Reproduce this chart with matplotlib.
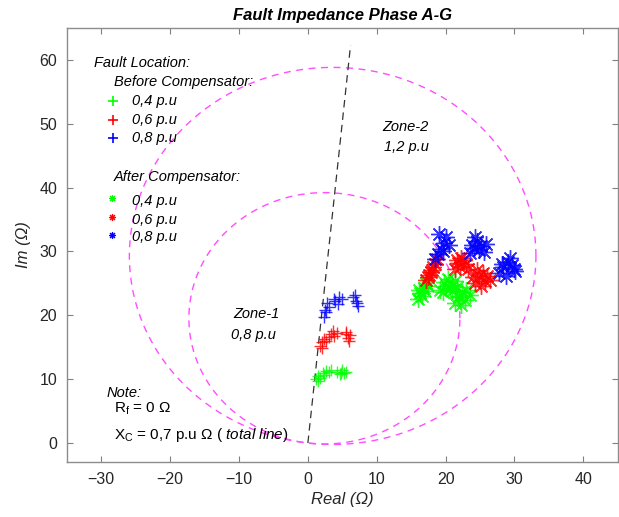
import numpy as np
import matplotlib
matplotlib.use("Agg")
import matplotlib.pyplot as plt

plt.rcParams['font.family'] = ['Liberation Sans', 'DejaVu Sans']
plt.rcParams['mathtext.fontset'] = 'custom'
plt.rcParams['mathtext.rm'] = 'Liberation Sans'
plt.rcParams['mathtext.it'] = 'Liberation Sans:italic'

# ---- data ----
xticks = [-30, -20, -10, 0, 10, 20, 30, 40]
yticks = [0, 10, 20, 30, 40, 50, 60]

line_mag = 49.2        # total line impedance (ohm)
line_angle = 83.0      # degrees
zone_factors = [0.8, 1.2]
line_end = [6.2, 62.3]

green_before_x = [1.2, 1.5, 1.8, 2.2, 2.6, 3.0, 2.4, 4.2, 4.6, 5.0, 5.3, 4.8, 5.6, 1.4, 3.3]
green_before_y = [10.0, 10.5, 10.2, 11.0, 11.3, 11.1, 10.7, 11.2, 10.8, 11.4, 10.9, 11.0, 11.2, 9.7, 11.4]
red_before_x = [1.8, 2.0, 2.3, 2.1, 3.0, 3.4, 3.8, 4.2, 5.5, 5.8, 6.1, 5.9, 5.6, 2.6, 3.6]
red_before_y = [15.2, 15.8, 16.3, 14.9, 16.6, 17.1, 16.8, 17.2, 17.0, 16.5, 16.9, 15.9, 17.4, 16.0, 17.5]
blue_before_x = [2.4, 2.7, 3.0, 2.8, 4.0, 4.5, 4.9, 4.4, 6.6, 7.0, 7.3, 6.9, 7.1, 2.5, 3.8]
blue_before_y = [19.8, 20.5, 21.3, 21.9, 22.3, 22.9, 22.5, 21.8, 22.8, 22.2, 21.5, 23.2, 21.9, 20.9, 22.6]

green_after_x = [16.0, 16.3, 16.8, 17.1, 17.4, 16.5, 16.1, 17.0,
                 19.2, 19.8, 20.3, 20.9, 21.3, 19.6, 20.6, 20.0, 21.0,
                 21.4, 21.9, 22.4, 23.0, 23.5, 22.2, 21.7, 22.8, 22.0]
green_after_y = [22.6, 23.5, 24.3, 25.0, 24.6, 23.0, 24.0, 23.8,
                 24.0, 25.2, 25.7, 24.8, 25.3, 23.6, 24.2, 24.6, 23.8,
                 22.0, 23.0, 23.6, 24.0, 23.2, 21.6, 24.4, 22.4, 22.9]
red_after_x = [17.2, 17.6, 18.0, 18.4, 18.7, 17.9, 17.5, 18.2,
               21.3, 21.8, 22.3, 22.9, 23.3, 22.1, 21.6, 22.7,
               24.2, 24.8, 25.4, 26.0, 26.5, 25.1, 24.6, 25.7, 24.0]
red_after_y = [25.5, 26.3, 27.1, 28.0, 28.8, 26.8, 26.0, 27.6,
               27.3, 28.2, 28.9, 28.0, 27.2, 27.6, 28.6, 28.6,
               25.0, 26.1, 26.7, 26.2, 25.5, 24.6, 27.1, 25.3, 26.0]
blue_after_x = [18.4, 18.9, 19.3, 19.7, 20.1, 20.5, 19.1, 19.6,
                23.6, 24.1, 24.6, 25.1, 25.6, 24.3, 25.8, 24.9, 23.9,
                27.8, 28.4, 29.0, 29.6, 30.1, 28.8, 29.4, 28.2, 29.9]
blue_after_y = [28.8, 29.6, 30.4, 31.3, 32.2, 31.0, 32.8, 30.0,
                29.8, 30.6, 31.6, 30.9, 29.9, 32.3, 31.2, 30.3, 31.0,
                26.6, 27.5, 28.4, 27.8, 26.9, 26.2, 28.9, 28.0, 27.3]

colors = {'g': (0, 1, 0), 'r': (1, 0, 0), 'b': (0, 0, 1)}

# ---- figure ----
fig = plt.figure(figsize=(6.19, 5.17), dpi=100)
ax = fig.add_axes([0.108, 0.106, 0.89, 0.84])
ax.set_xlim(-35, 45)
ax.set_ylim(-3, 65)

# mho circles
th = np.linspace(0, 2 * np.pi, 400)
ang = np.deg2rad(line_angle)
for f in zone_factors:
    r = 0.5 * f * line_mag
    cx, cy = r * np.cos(ang), r * np.sin(ang)
    ax.plot(cx + r * np.cos(th), cy + r * np.sin(th), color=(1, 0.3, 1),
            ls=(0, (5, 4)), lw=1.0)

# line characteristic
ax.plot([0, line_end[0]], [0, line_end[1]], color='#333333', ls=(0, (6, 4)), lw=0.9)

ast = (8, 2, 0)
pts = [(green_before_x, green_before_y, 'g', '+'),
       (red_before_x, red_before_y, 'r', '+'),
       (blue_before_x, blue_before_y, 'b', '+'),
       (green_after_x, green_after_y, 'g', ast),
       (red_after_x, red_after_y, 'r', ast),
       (blue_after_x, blue_after_y, 'b', ast)]
for xs, ys, c, m in pts:
    ms = 9 if m == '+' else 12
    ax.plot(xs, ys, ls='none', marker=m, color=colors[c], ms=ms, mew=1.0, alpha=0.8)

# legend-like annotations
fs = 10.5
ax.text(-31.1, 59.5, 'Fault Location:', style='italic', fontsize=fs, va='center')
ax.text(-28.2, 56.6, 'Before Compensator:', style='italic', fontsize=fs, va='center')
for yy, c, lab in [(53.6, 'g', '0,4 p.u'), (50.6, 'r', '0,6 p.u'), (47.7, 'b', '0,8 p.u')]:
    ax.plot([-28.3], [yy], ls='none', marker='+', color=colors[c], ms=7, mew=1.2)
    ax.text(-25.5, yy, lab, style='italic', fontsize=fs, va='center')
ax.text(-28.2, 41.7, 'After Compensator:', style='italic', fontsize=fs, va='center')
for yy, c, lab in [(37.9, 'g', '0,4 p.u'), (35.0, 'r', '0,6 p.u'), (32.2, 'b', '0,8 p.u')]:
    ax.plot([-28.4], [yy + 0.4], ls='none', marker=ast, color=colors[c], ms=5, mew=0.8)
    ax.text(-25.5, yy, lab, style='italic', fontsize=fs, va='center')

ax.text(10.8, 49.5, 'Zone-2', style='italic', fontsize=fs, va='center')
ax.text(11.0, 46.4, '1,2 p.u', style='italic', fontsize=fs, va='center')
ax.text(-10.9, 20.2, 'Zone-1', style='italic', fontsize=fs, va='center')
ax.text(-11.2, 16.9, '0,8 p.u', style='italic', fontsize=fs, va='center')

ax.text(-29.2, 7.8, 'Note:', style='italic', fontsize=fs, va='center')
ax.text(-28.1, 5.3, r'$\mathregular{R_f}$ = 0 Ω', fontsize=11, va='center')
ax.text(-28.1, 1.3, r'$\mathregular{X_C}$ = 0,7 p.u Ω ( $\mathit{total\ line}$)', fontsize=11, va='center')

# axes styling
ax.set_xticks(xticks)
ax.set_yticks(yticks)
ax.tick_params(direction='in', top=True, right=True, length=4, width=0.8,
               color='#808080', labelcolor='#262626', labelsize=11.5, pad=7)
for s in ax.spines.values():
    s.set_color('#8c8c8c')
    s.set_linewidth(1.0)

ax.set_title('Fault Impedance Phase A-G', fontsize=12, fontweight='bold', style='italic', pad=6)
ax.set_xlabel('Real (Ω)', style='italic', fontsize=12, color='#262626', labelpad=4)
ax.set_ylabel('Im (Ω)', style='italic', fontsize=12, color='#262626', labelpad=6)

fig.savefig('out.png', dpi=100)
